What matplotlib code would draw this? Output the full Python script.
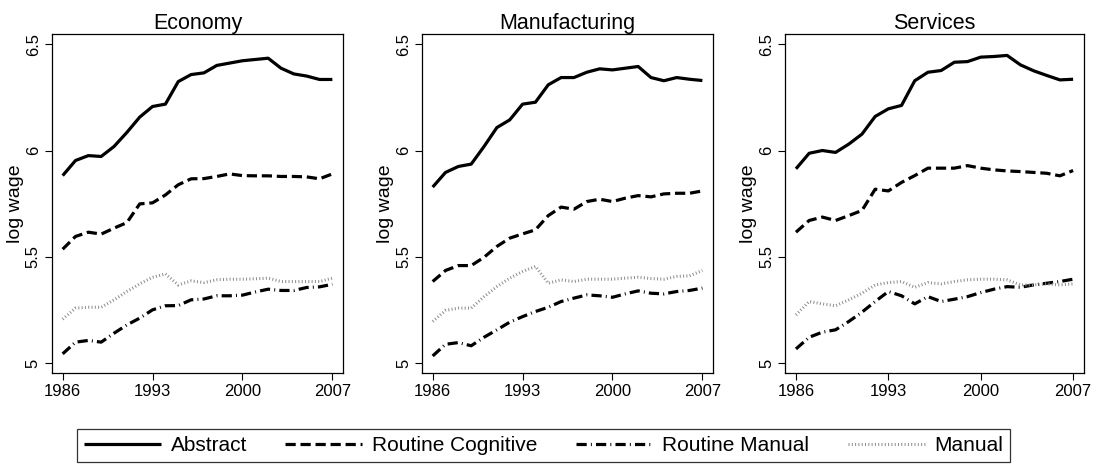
import matplotlib
matplotlib.use("Agg")
import matplotlib.pyplot as plt

plt.rcParams['font.family'] = ['Liberation Sans', 'DejaVu Sans']

years = list(range(1986, 2008))

# log wage by task group, economy-wide
economy_abstract = [5.882, 5.953, 5.976, 5.972, 6.019, 6.085, 6.157, 6.207, 6.218, 6.324, 6.357,
                    6.365, 6.400, 6.411, 6.422, 6.428, 6.434, 6.387, 6.360, 6.350, 6.334, 6.334]
economy_cognitive = [5.536, 5.596, 5.616, 5.607, 5.635, 5.661, 5.749, 5.754, 5.791, 5.839, 5.867,
                     5.868, 5.878, 5.890, 5.882, 5.881, 5.881, 5.878, 5.878, 5.876, 5.867, 5.890]
economy_rmanual = [5.044, 5.099, 5.107, 5.099, 5.141, 5.180, 5.212, 5.251, 5.270, 5.271, 5.298,
                   5.302, 5.317, 5.317, 5.320, 5.335, 5.348, 5.342, 5.342, 5.356, 5.359, 5.371]
economy_manual = [5.207, 5.259, 5.263, 5.263, 5.298, 5.337, 5.373, 5.404, 5.420, 5.368, 5.387,
                  5.379, 5.392, 5.395, 5.395, 5.397, 5.400, 5.384, 5.384, 5.384, 5.384, 5.400]

# manufacturing
manuf_abstract = [5.828, 5.897, 5.925, 5.936, 6.019, 6.108, 6.144, 6.218, 6.227, 6.309, 6.343,
                  6.343, 6.368, 6.384, 6.379, 6.387, 6.395, 6.343, 6.328, 6.343, 6.335, 6.329]
manuf_cognitive = [5.384, 5.436, 5.459, 5.459, 5.498, 5.549, 5.588, 5.608, 5.627, 5.694, 5.734,
                   5.724, 5.760, 5.771, 5.760, 5.776, 5.788, 5.782, 5.796, 5.799, 5.799, 5.810]
manuf_rmanual = [5.034, 5.089, 5.097, 5.082, 5.122, 5.157, 5.193, 5.219, 5.243, 5.263, 5.290,
                 5.306, 5.321, 5.317, 5.310, 5.326, 5.340, 5.329, 5.326, 5.337, 5.342, 5.353]
manuf_manual = [5.196, 5.248, 5.259, 5.259, 5.313, 5.360, 5.400, 5.431, 5.455, 5.376, 5.392,
                5.384, 5.395, 5.395, 5.395, 5.400, 5.404, 5.398, 5.395, 5.408, 5.411, 5.436]

# services
serv_abstract = [5.914, 5.987, 6.000, 5.991, 6.030, 6.077, 6.160, 6.196, 6.212, 6.328, 6.368,
                 6.376, 6.415, 6.418, 6.439, 6.442, 6.447, 6.403, 6.375, 6.353, 6.332, 6.335]
serv_cognitive = [5.616, 5.671, 5.687, 5.671, 5.694, 5.718, 5.818, 5.810, 5.850, 5.882, 5.917,
                  5.917, 5.917, 5.929, 5.917, 5.909, 5.904, 5.901, 5.897, 5.893, 5.881, 5.906]
serv_rmanual = [5.067, 5.122, 5.146, 5.157, 5.196, 5.240, 5.290, 5.337, 5.317, 5.279, 5.313,
                5.290, 5.301, 5.313, 5.332, 5.348, 5.360, 5.357, 5.368, 5.376, 5.384, 5.395]
serv_manual = [5.227, 5.290, 5.279, 5.270, 5.298, 5.329, 5.368, 5.379, 5.384, 5.357, 5.379,
               5.373, 5.384, 5.392, 5.395, 5.395, 5.392, 5.368, 5.368, 5.373, 5.368, 5.373]

panel_titles = ["Economy", "Manufacturing", "Services"]
series_names = ["Abstract", "Routine Cognitive", "Routine Manual", "Manual"]
panels = [
    [economy_abstract, economy_cognitive, economy_rmanual, economy_manual],
    [manuf_abstract, manuf_cognitive, manuf_rmanual, manuf_manual],
    [serv_abstract, serv_cognitive, serv_rmanual, serv_manual],
]
x_ticks = [1986, 1993, 2000, 2007]
y_ticks = [5, 5.5, 6, 6.5]
y_tick_labels = ["5", "5.5", "6", "6.5"]

# line styles for each task group
styles = [
    dict(color="black", lw=2.3, linestyle="-", solid_capstyle="butt"),
    dict(color="black", lw=2.3, linestyle=(0, (3.2, 1.5)), dash_capstyle="butt"),
    dict(color="black", lw=2.3, linestyle=(0, (3.2, 1.3, 0.3, 1.3)), dash_capstyle="butt"),
    dict(color="#8f8f8f", lw=2.2, linestyle=(0, (0.33, 0.75)), dash_capstyle="butt"),
]

fig = plt.figure(figsize=(10.97, 4.67), dpi=100)
axes_pos = [
    [0.0474, 0.2013, 0.2653, 0.726],
    [0.3847, 0.2013, 0.2653, 0.726],
    [0.7156, 0.2013, 0.2726, 0.726],
]

handles = []
for i, pos in enumerate(axes_pos):
    ax = fig.add_axes(pos)
    for name, vals, st in zip(series_names, panels[i], styles):
        ln, = ax.plot(years, vals, label=name, **st)
        if i == 0:
            handles.append(ln)
    ax.set_xlim(1985.17, 2007.83)
    ax.set_ylim(4.954, 6.548)
    ax.set_xticks(x_ticks)
    ax.set_xticklabels([str(t) for t in x_ticks], fontsize=12)
    ax.set_yticks(y_ticks)
    ax.set_yticklabels(y_tick_labels, fontsize=12, rotation=90, va="center")
    ax.tick_params(direction="out", length=5, width=0.8, color="black", pad=3)
    ax.set_ylabel("log wage", fontsize=14, labelpad=1.5)
    ax.set_title(panel_titles[i], fontsize=15.5, pad=3)
    for sp in ax.spines.values():
        sp.set_linewidth(0.9)
        sp.set_color("black")

leg = fig.legend(handles, series_names, loc="center", ncol=4, bbox_to_anchor=(0.4955, 0.046),
                 fontsize=15, frameon=True, fancybox=False, edgecolor="black",
                 handlelength=3.7, handletextpad=0.45, columnspacing=1.85, borderpad=0.35)
leg.get_frame().set_linewidth(0.9)

fig.savefig("out.png", dpi=100)
